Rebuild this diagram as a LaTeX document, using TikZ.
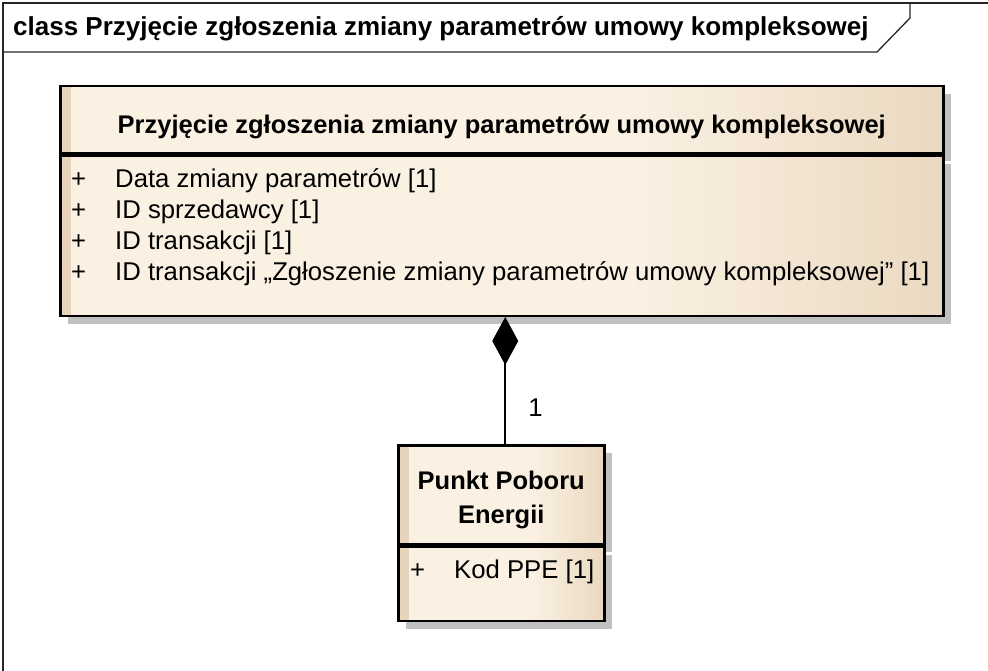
\documentclass[tikz,border=0pt]{standalone}
\usepackage{fontspec}
\setmainfont{Liberation Sans}
\usepackage{xcolor}
\usetikzlibrary{arrows.meta,positioning,shadows}
\definecolor{umlcream}{HTML}{FBF1E3}
\definecolor{umltan}{HTML}{EAD9C1}
\definecolor{umlstrip}{HTML}{E6D3BA}
\definecolor{umlshadow}{HTML}{C0C0C0}
\pgfdeclarehorizontalshading{umlfill}{100bp}{color(0bp)=(umlcream); color(25bp)=(umlcream);
  color(57bp)=(umlcream); color(75bp)=(umltan); color(100bp)=(umltan)}
\newcommand{\attrline}[1]{\makebox[44pt][l]{+}#1}

\begin{document}
\begin{tikzpicture}[
  x=1pt, y=-1pt,
  frame/.style={draw=black!85, line width=1.3pt},
  umlclass/.style={rectangle, draw=black, line width=2.5pt, shading=umlfill,
                   anchor=north west, inner sep=0pt,
                   drop shadow={fill=umlshadow, opacity=1, shadow xshift=8pt, shadow yshift=-8pt},
                   path picture={\shade[left color=umlstrip, right color=umlcream]
                     (path picture bounding box.north west) rectangle
                     ([xshift=10pt]path picture bounding box.south west);}},
  title/.style={font=\bfseries\fontsize{25.5}{34}\selectfont, align=center},
  attr/.style={font=\fontsize{25.7}{30}\selectfont, anchor=base west, inner sep=0pt},
  comp/.style={line width=2pt, -{Diamond[length=48pt, width=26pt]}},
]
  \useasboundingbox (0,0) rectangle (988,671);
  %% Diagram frame with its name tab
  \draw[frame] (3,671) -- (3,3) -- (988,3);
  \draw[frame] (910,3) -- (910,18) -- (877,52) -- (3,52);
  \node[title, font=\bfseries\fontsize{26}{34}\selectfont, anchor=base west, inner sep=0pt] (diagtitle) at (13,36)
       {class Przyjęcie zgłoszenia zmiany parametrów umowy kompleksowej};

  %% Class: the request
  \node[umlclass, title, minimum width=883pt, text height=47pt, text depth=20pt] (reqhead) at (59,85)
       {Przyjęcie zgłoszenia zmiany parametrów umowy kompleksowej};
  \node[umlclass, minimum width=883pt, minimum height=160pt] (reqbody) at (reqhead.south west) {};
  \foreach \attrtext [count=\i] in {Data zmiany parametrów [1], ID sprzedawcy [1], ID transakcji [1],
      {ID transakcji „Zgłoszenie zmiany parametrów umowy kompleksowej” [1]}}
    \node[attr] (attr\i) at ([shift={(12,2+31*\i)}]reqbody.north west) {\attrline{\attrtext}};

  %% Class: the metering point
  \node[umlclass, title, minimum width=206pt, text height=78pt, text depth=21pt] (ppehead) at (397,444)
       {Punkt Poboru\\Energii};
  \node[umlclass, minimum width=206pt, minimum height=74pt] (ppebody) at (ppehead.south west) {};
  \node[attr] (ppeattr) at ([shift={(13,33)}]ppebody.north west) {\attrline{Kod PPE [1]}};

  %% Composition
  \draw[comp] ([xshift=4pt]ppehead.north) -- ([xshift=4pt]ppehead.north |- reqbody.south)
       node[attr, pos=0.22, anchor=base west, xshift=22pt] (mult) {1};
\end{tikzpicture}
\end{document}
